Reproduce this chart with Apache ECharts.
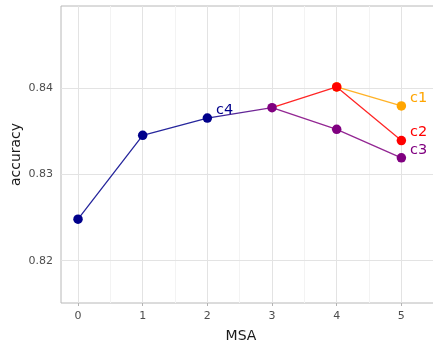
<!DOCTYPE html>
<html>
<head>
<meta charset="utf-8">
<script src="https://cdn.jsdelivr.net/npm/echarts@6/dist/echarts.min.js"></script>
<style>
  html, body { margin: 0; padding: 0; background: #ffffff; }
  #chart { width: 433px; height: 342px; }
</style>
</head>
<body>
<div id="chart"></div>
<script>
// MSA steps on the x axis
const msa = [0, 1, 2, 3, 4, 5];

// accuracy per configuration (null where a configuration has no point)
const c4 = [0.8248, 0.8345, 0.8365, 0.8377, null, null];
const c1 = [null, null, null, null, 0.8401, 0.8379];
const c2 = [null, null, null, 0.8377, 0.8401, 0.8339];
const c3 = [null, null, null, 0.8377, 0.8352, 0.8319];

// axis ticks and grid positions
const xTicks = [0, 1, 2, 3, 4, 5];
const xMinor = [0.5, 1.5, 2.5, 3.5, 4.5];
const yTicks = [0.82, 0.83, 0.84];
const yMinor = [0.825, 0.835, 0.845];

const NAVY = '#00008B', ORANGE = '#FFA500', RED = '#FF0000', PURPLE = '#800080';
const FONT = 'DejaVu Sans';

function pairs(values) {
  return msa.map((x, i) => [x, values[i]]);
}

// label shown next to one chosen point of a series
function pointLabel(text, idx, color) {
  return {
    show: true,
    position: 'right',
    distance: 4,
    offset: [0, -8],
    color: color,
    fontFamily: FONT,
    fontSize: 14.5,
    formatter: p => (p.dataIndex === idx ? text : '')
  };
}

function lineSeries(name, values, color, lineColor, labelIdx, hideIdx) {
  return {
    name: name,
    type: 'line',
    data: pairs(values),
    connectNulls: false,
    symbol: 'circle',
    symbolSize: (v, p) => (hideIdx != null && p.dataIndex === hideIdx ? 0 : 9.5),
    itemStyle: { color: color },
    lineStyle: { color: lineColor, width: 1.3, opacity: 0.85 },
    label: pointLabel(name, labelIdx, color),
    emphasis: { disabled: true },
    z: 10
  };
}

const MAJOR = { color: '#e3e3e3', width: 1, type: 'solid' };
const MINOR = { color: '#f3f3f3', width: 1, type: 'solid' };
const gridLines = [].concat(
  xMinor.map(v => ({ xAxis: v, lineStyle: MINOR })),
  yMinor.map(v => ({ yAxis: v, lineStyle: MINOR })),
  xTicks.map(v => ({ xAxis: v, lineStyle: MAJOR })),
  yTicks.map(v => ({ yAxis: v, lineStyle: MAJOR }))
);

const chart = echarts.init(document.getElementById('chart'), null, { renderer: 'canvas' });

chart.setOption({
  animation: false,
  backgroundColor: '#ffffff',
  grid: {
    left: 61, right: -2, top: 6, bottom: 39,
    containLabel: false,
    outerBoundsMode: 'none',
    show: true,
    borderColor: '#b8b8b8',
    borderWidth: 1,
    backgroundColor: 'transparent'
  },
  xAxis: {
    type: 'value',
    min: -0.263,
    max: 5.52,
    name: 'MSA',
    nameLocation: 'middle',
    nameGap: 26,
    nameMoveOverlap: false,
    nameTextStyle: { fontFamily: FONT, fontSize: 14, color: '#1a1a1a', padding: [0, 14, 0, 0] },
    axisLine: { show: false },
    axisTick: { show: true, customValues: xTicks, length: 3, lineStyle: { color: '#b3b3b3' } },
    axisLabel: { customValues: xTicks, margin: 8, fontFamily: FONT, fontSize: 11, color: '#4d4d4d' },
    splitLine: { show: false }
  },
  yAxis: {
    type: 'value',
    min: 0.8151,
    max: 0.84947,
    name: 'accuracy',
    nameLocation: 'middle',
    nameRotate: 90,
    nameGap: 38,
    nameMoveOverlap: false,
    nameTextStyle: { fontFamily: FONT, fontSize: 14, color: '#1a1a1a' },
    axisLine: { show: false },
    axisTick: { show: true, customValues: yTicks, length: 3, lineStyle: { color: '#b3b3b3' } },
    axisLabel: {
      customValues: yTicks, margin: 8, fontFamily: FONT, fontSize: 11, color: '#4d4d4d',
      formatter: v => v.toFixed(2)
    },
    splitLine: { show: false }
  },
  series: [
    {
      name: 'grid',
      type: 'line',
      data: [],
      silent: true,
      z: 1,
      markLine: {
        silent: true,
        z: 1,
        symbol: ['none', 'none'],
        label: { show: false },
        emphasis: { disabled: true },
        animation: false,
        data: gridLines
      }
    },
    // c4 runs navy and shades into purple on its last segment
    lineSeries('c4', c4, NAVY, new echarts.graphic.LinearGradient(0, 0, 1, 0, [
      { offset: 0, color: NAVY },
      { offset: 0.667, color: NAVY },
      { offset: 1, color: PURPLE }
    ]), 2, 3),
    lineSeries('c1', c1, ORANGE, ORANGE, 5, null),
    lineSeries('c2', c2, RED, RED, 5, 3),
    lineSeries('c3', c3, PURPLE, PURPLE, 5, null)
  ]
});
</script>
</body>
</html>
